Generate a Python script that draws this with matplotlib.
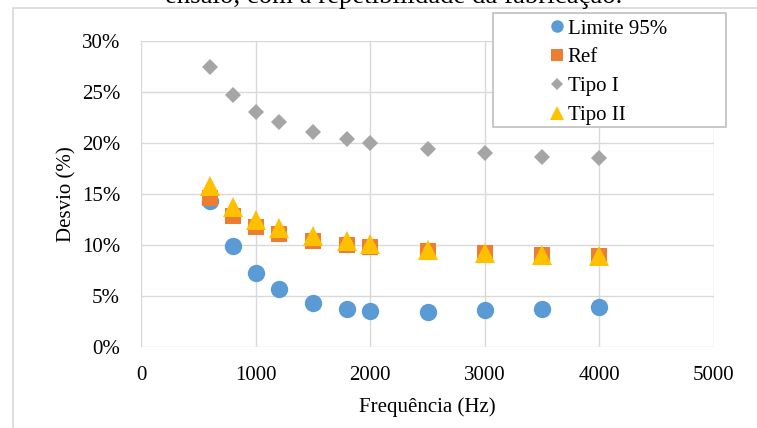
import matplotlib
matplotlib.use("Agg")
import matplotlib.pyplot as plt
from matplotlib.patches import Rectangle
from matplotlib.ticker import FuncFormatter, MultipleLocator

plt.rcParams['font.family'] = ['Liberation Serif', 'DejaVu Serif']

# frequências ensaiadas (Hz) e desvios (%)
freq = [600, 800, 1000, 1200, 1500, 1800, 2000, 2500, 3000, 3500, 4000]
limite_95 = [14.3, 9.87, 7.25, 5.72, 4.35, 3.76, 3.53, 3.46, 3.6, 3.73, 3.92]
ref = [14.65, 12.85, 11.73, 11.08, 10.42, 10.0, 9.83, 9.44, 9.2, 9.05, 8.92]
tipo_1 = [27.48, 24.7, 23.07, 22.03, 21.05, 20.36, 19.97, 19.4, 18.99, 18.66, 18.5]
tipo_2 = [15.75, 13.7, 12.45, 11.67, 10.9, 10.42, 10.1, 9.55, 9.25, 9.05, 8.9]

W, H = 757, 428
fig = plt.figure(figsize=(W / 100, H / 100), dpi=100)

# moldura da área do gráfico
fig.patches.append(Rectangle((13 / W, -0.1), 1.0, 1 - 8 / H + 0.1,
                             transform=fig.transFigure, fill=False,
                             edgecolor='#D9D9D9', linewidth=1.2))

# legenda da figura (cortada no topo)
fig.text(394 / W, 1 - 3 / H, 'ensaio, com a repetibilidade da fabricação.',
         ha='center', va='baseline', fontsize=19.3)

ax = fig.add_axes([141 / W, 1 - 347 / H, 573 / W, 306 / H])

ax.plot(freq, limite_95, 'o', color='#5B9BD5', markersize=12.5,
        markeredgewidth=0, label='Limite 95%', zorder=3)
ax.plot(freq, ref, 's', color='#ED7D31', markersize=11.5,
        markeredgewidth=0, label='Ref', zorder=4)
ax.plot(freq, tipo_1, 'D', color='#A5A5A5', markersize=8.5,
        markeredgewidth=0, label='Tipo I', zorder=5)
ax.plot(freq, tipo_2, '^', color='#FFC000', markersize=14,
        markeredgewidth=0, label='Tipo II', zorder=6)

ax.set_xlim(0, 5000)
ax.set_ylim(0, 30)
ax.xaxis.set_major_locator(MultipleLocator(1000))
ax.yaxis.set_major_locator(MultipleLocator(5))
ax.yaxis.set_major_formatter(FuncFormatter(lambda v, p: f'{v:.0f}%'))
ax.grid(True, color='#D9D9D9', linewidth=1.0)
ax.set_axisbelow(True)
for s in ax.spines.values():
    s.set_visible(False)
ax.tick_params(length=0, labelsize=15, colors='black')
ax.tick_params(axis='y', pad=15)
ax.tick_params(axis='x', pad=14)

ax.set_xlabel('Frequência (Hz)', fontsize=15, labelpad=8.5)
ax.set_ylabel('Desvio (%)', fontsize=15, labelpad=3.5)

# caixa da legenda
fig.patches.append(Rectangle((493 / W, 1 - 127 / H), 233 / W, 114 / H,
                             transform=fig.transFigure, fill=True,
                             facecolor='white', edgecolor='#BFBFBF',
                             linewidth=1.2, zorder=10))
leg = fig.legend(loc='upper left', bbox_to_anchor=(549 / W, 1 - 19 / H),
                 frameon=False, fontsize=15, markerscale=0.72,
                 handlelength=0.8, handletextpad=0.1, labelspacing=0.44,
                 borderpad=0, borderaxespad=0)
leg.set_zorder(11)

fig.savefig('out.png', dpi=100)
